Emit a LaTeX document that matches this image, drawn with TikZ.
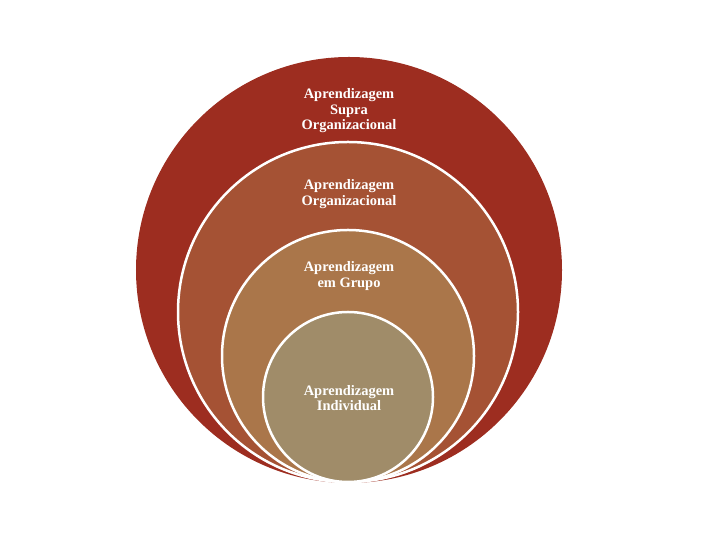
\documentclass[tikz,border=0pt]{standalone}
\usepackage{fontspec}
\setmainfont{Liberation Serif}
\usepackage{tikz}

\definecolor{supra}{RGB}{157,45,32}
\definecolor{organ}{RGB}{165,82,52}
\definecolor{grupo}{RGB}{170,118,74}
\definecolor{indiv}{RGB}{160,140,105}

\tikzset{
    ring/.style={draw=white, line width=2.5bp},
    label/.style={text=white, align=center, font=\fontsize{14.5}{15.5}\selectfont\bfseries}
}

\begin{document}
\begin{tikzpicture}[x=1bp,y=1bp]

\useasboundingbox (0,0) rectangle (720,540);

\coordinate (s) at (349,270);
\coordinate (o) at (348,228);
\coordinate (g) at (348,184);
\coordinate (i) at (348,143);

\fill[supra] (s) circle (213bp);
\filldraw[ring, fill=organ] (o) circle (170bp);
\filldraw[ring, fill=grupo] (g) circle (126bp);
\filldraw[ring, fill=indiv] (i) circle (85bp);

\node [label] (ts) at (349,429) {Aprendizagem\\Supra\\Organizacional};
\node [label] (to) at (349,346) {Aprendizagem\\Organizacional};
\node [label] (tg) at (349,264) {Aprendizagem\\em Grupo};
\node [label] (ti) at (349,142) {Aprendizagem\\Individual};

\end{tikzpicture}
\end{document}
